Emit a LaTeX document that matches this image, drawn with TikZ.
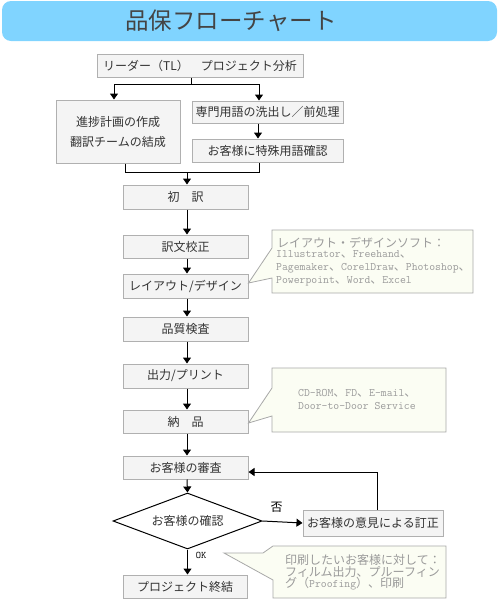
\documentclass[tikz,border=0pt]{standalone}
\usepackage{fontspec}
\setmainfont{Noto Sans CJK JP}
\usetikzlibrary{arrows.meta,shapes.geometric}
\definecolor{titlebg}{HTML}{80D4FF}
\definecolor{titletxt}{HTML}{444444}
\definecolor{boxfill}{HTML}{F4F4F4}
\definecolor{boxline}{HTML}{B0B0B0}
\definecolor{txt}{HTML}{333333}
\definecolor{callfill}{HTML}{FBFDF3}
\definecolor{callline}{HTML}{A8A8A8}
\definecolor{calltxt}{HTML}{9A9A9A}
\newcommand\mtx[1]{{\fontsize{11.4pt}{13pt}\ttfamily #1}}
\begin{document}
\begin{tikzpicture}[x=1pt,y=-1pt,
  box/.style={draw=boxline, fill=boxfill, line width=1pt, inner sep=0pt, text=txt,
    font=\fontsize{12pt}{14pt}\selectfont},
  mainbox/.style={box, minimum width=125pt, minimum height=24pt},
  conn/.style={line width=1pt, draw=black},
  arr/.style={conn, -{Triangle[width=8pt,length=6pt]}},
  call/.style={draw=callline, fill=callfill, line width=0.8pt},
  ctext/.style={text=calltxt, inner sep=0pt, anchor=west, font=\fontsize{12pt}{14pt}\selectfont},
  lbl/.style={inner sep=0pt, text=black, font=\fontsize{12pt}{14pt}\selectfont},
]
\useasboundingbox (0,0) rectangle (500,600);
% title
\node[fill=titlebg, rounded corners=9pt, minimum width=495pt, minimum height=40pt, inner sep=0pt] (bar) at (249.5,21) {};
\node[text=titletxt, inner sep=0pt, font=\fontsize{23.5pt}{26pt}\selectfont] (title) at (231,21) {品保フローチャート};

% boxes
\node[box, minimum width=206pt, minimum height=23pt] (b1) at (200,65.5) {リーダー（TL）　プロジェクト分析};
\node[box, minimum width=124pt, minimum height=63pt, align=center, font=\fontsize{12pt}{20pt}\selectfont] (b2) at (118,131.5) {進捗計画の作成\\翻訳チームの結成};
\node[box, minimum width=151pt, minimum height=22pt] (b3) at (267.5,112) {専門用語の洗出し／前処理};
\node[box, minimum width=151pt, minimum height=23pt] (b4) at (267.5,150.5) {お客様に特殊用語確認};
\node[mainbox] (b5) at (185.5,197) {初　訳};
\node[mainbox, minimum height=23pt] (b6) at (185.5,246.5) {訳文校正};
\node[mainbox] (b7) at (185.5,286) {レイアウト/デザイン};
\node[mainbox] (b8) at (185.5,329) {品質検査};
\node[mainbox] (b9) at (185.5,376) {出力/プリント};
\node[mainbox, minimum height=23pt] (b10) at (185.5,421.5) {納　品};
\node[mainbox, minimum height=23pt] (b11) at (185.5,467.5) {お客様の審査};
\node[diamond, aspect=2.66, draw=black, line width=1pt, fill=white, minimum width=149pt, minimum height=56pt, inner sep=0pt, text=txt, font=\fontsize{12pt}{14pt}\selectfont] (d) at (187.5,521) {お客様の確認};
\node[box, minimum width=140pt, minimum height=26pt] (b12) at (373,523) {お客様の意見による訂正};
\node[box, minimum width=124pt, minimum height=23pt] (b13) at (185,586.5) {プロジェクト終結};

% connectors top split
\coordinate (s) at ([xshift=-9pt]b1.south);
\coordinate (sl) at (114,84);
\coordinate (sr) at (259,84);
\draw[conn] (s) -- (s |- sl);
\draw[conn] (sl) -- (sr);
\draw[arr] (sl) -- (sl |- b2.north);
\draw[arr] (sr) -- (sr |- b3.north);
\draw[arr] ([xshift=-9.5pt]b3.south) -- ([xshift=-9.5pt]b4.north);
% merge
\coordinate (ml) at (125,172);
\coordinate (mr) at (259,172);
\coordinate (mm) at (187,172);
\draw[conn] (ml |- b2.south) -- (ml) -- (mr) -- (mr |- b4.south);
\draw[arr] (mm) -- (mm |- b5.north);
% main column
\draw[arr] ([xshift=1.5pt]b5.south) -- ([xshift=1.5pt]b6.north);
\draw[arr] ([xshift=1.5pt]b6.south) -- ([xshift=1.5pt]b7.north);
\draw[arr] ([xshift=1.5pt]b7.south) -- ([xshift=1.5pt]b8.north);
\draw[arr] ([xshift=1.5pt]b8.south) -- ([xshift=1.5pt]b9.north);
\draw[arr] ([xshift=1.5pt]b9.south) -- ([xshift=1.5pt]b10.north);
\draw[arr] ([xshift=1.5pt]b10.south) -- ([xshift=1.5pt]b11.north);
\draw[arr] ([xshift=1.5pt]b11.south) -- (d.north);
\draw[arr] (d.east) -- (b12.west);
\coordinate (back) at (377,472);
\draw[arr] (back |- b12.north) -- (back) -- (back -| b11.east);
\draw[arr] (d.south) -- (d.south |- b13.north);
\node[lbl] (no) at (276.5,507.5) {否};
\node[inner sep=0pt, font=\fontsize{10pt}{12pt}\ttfamily] (ok) at (201,555) {OK};

% callout 1
\draw[call] (272,230) -- (473,230) -- (473,293) -- (272,293) -- (272,278) -- ([yshift=3pt]b7.east) -- (272,248) -- cycle;
\node[ctext] (c1a) at (277,242.5) {レイアウト・デザインソフト：};
\node[ctext] (c1b) at (276,254.5) {\mtx{Illustrator}、\mtx{Freehand}、};
\node[ctext] (c1c) at (276,268) {\mtx{Pagemaker}、\mtx{CorelDraw}、\mtx{Photoshop}、};
\node[ctext] (c1d) at (276,281) {\mtx{Powerpoint}、\mtx{Word}、\mtx{Excel}};
% callout 2
\draw[call] (272,368) -- (446,368) -- (446,432) -- (272,432) -- (272,416) -- ([yshift=-1.5pt]b10.east) -- (272,388) -- cycle;
\node[ctext] (c2a) at (298,393) {\mtx{CD-ROM}、\mtx{FD}、\mtx{E-mail}、};
\node[ctext] (c2b) at (298,406) {\mtx{Door-to-Door Service}};
% callout 3
\coordinate (tip3) at (224,553);
\draw[call] (273,546) -- (446,546) -- (446,598) -- (273,598) -- (273,580) -- (tip3) -- (263,553) -- cycle;
\node[ctext] (c3a) at (285,559.5) {印刷したいお客様に対して：};
\node[ctext] (c3b) at (285,572) {フィルム出力、プルーフィン};
\node[ctext] (c3c) at (285,584) {グ（\mtx{Proofing}）、印刷};
\end{tikzpicture}
\end{document}
